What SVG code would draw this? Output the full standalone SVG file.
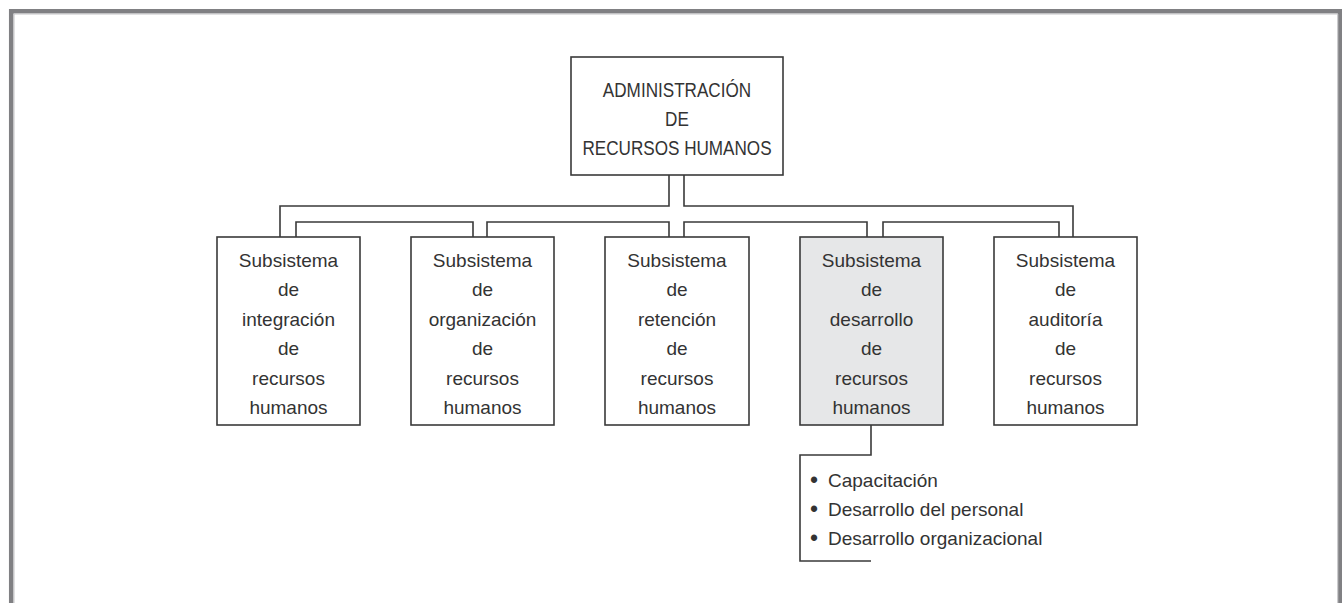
<svg xmlns="http://www.w3.org/2000/svg" width="1342" height="603" viewBox="0 0 1342 603">
<style>
.box{fill:#fff;stroke:#3a3a3a;stroke-width:1.6}
.hl{fill:#e6e7e8}
.t{font-family:"Liberation Sans",Arial,sans-serif;font-size:19px;fill:#333;text-anchor:middle}
.tc{font-family:"Liberation Sans",Arial,sans-serif;font-size:20.5px;fill:#333;text-anchor:middle}
.b{font-family:"Liberation Sans",Arial,sans-serif;font-size:19px;fill:#333}
.dot{font-size:23px}
.c{fill:none;stroke:#3a3a3a;stroke-width:1.6}
</style>
<rect width="1342" height="603" fill="#fff"/>
<g id="frame">
<path d="M11.2,603 V11.2 H1340 V603" fill="none" stroke="#808083" stroke-width="4.5"/>
<path d="M14,603 V14 H1337.8 V603" fill="none" stroke="#c4c4c6" stroke-width="1"/>
</g>
<g id="connectors">
<path class="c" d="M669,175 V206 H280 V237"/>
<path class="c" d="M684,175 V206 H1073 V237"/>
<path class="c" d="M296,237 V222 H473 V237"/>
<path class="c" d="M487,237 V222 H669 V237"/>
<path class="c" d="M684,237 V222 H867 V237"/>
<path class="c" d="M883,237 V222 H1059 V237"/>
<path class="c" d="M871,425 V455 H800 V561 H871"/>
</g>
<g id="root">
<rect class="box" x="571" y="57" width="212" height="118"/>
<text class="tc" transform="translate(677,0) scale(0.835,1)"><tspan x="0" y="97">ADMINISTRACIÓN</tspan><tspan x="0" y="126">DE</tspan><tspan x="0" y="155">RECURSOS HUMANOS</tspan></text>
</g>
<g id="integracion">
<rect class="box" x="217" y="237" width="143" height="188"/>
<text class="t"><tspan x="288.5" y="266.5">Subsistema</tspan><tspan x="288.5" y="296">de</tspan><tspan x="288.5" y="325.5">integración</tspan><tspan x="288.5" y="355">de</tspan><tspan x="288.5" y="384.5">recursos</tspan><tspan x="288.5" y="414">humanos</tspan></text>
</g>
<g id="organizacion">
<rect class="box" x="411" y="237" width="143" height="188"/>
<text class="t"><tspan x="482.5" y="266.5">Subsistema</tspan><tspan x="482.5" y="296">de</tspan><tspan x="482.5" y="325.5">organización</tspan><tspan x="482.5" y="355">de</tspan><tspan x="482.5" y="384.5">recursos</tspan><tspan x="482.5" y="414">humanos</tspan></text>
</g>
<g id="retencion">
<rect class="box" x="605" y="237" width="144" height="188"/>
<text class="t"><tspan x="677" y="266.5">Subsistema</tspan><tspan x="677" y="296">de</tspan><tspan x="677" y="325.5">retención</tspan><tspan x="677" y="355">de</tspan><tspan x="677" y="384.5">recursos</tspan><tspan x="677" y="414">humanos</tspan></text>
</g>
<g id="desarrollo">
<rect class="box hl" x="800" y="237" width="143" height="188"/>
<text class="t"><tspan x="871.5" y="266.5">Subsistema</tspan><tspan x="871.5" y="296">de</tspan><tspan x="871.5" y="325.5">desarrollo</tspan><tspan x="871.5" y="355">de</tspan><tspan x="871.5" y="384.5">recursos</tspan><tspan x="871.5" y="414">humanos</tspan></text>
</g>
<g id="auditoria">
<rect class="box" x="994" y="237" width="143" height="188"/>
<text class="t"><tspan x="1065.5" y="266.5">Subsistema</tspan><tspan x="1065.5" y="296">de</tspan><tspan x="1065.5" y="325.5">auditoría</tspan><tspan x="1065.5" y="355">de</tspan><tspan x="1065.5" y="384.5">recursos</tspan><tspan x="1065.5" y="414">humanos</tspan></text>
</g>
<g id="desarrollo-items">
<text class="b"><tspan class="dot" x="810" y="488">•</tspan><tspan x="828" y="487">Capacitación</tspan></text>
<text class="b"><tspan class="dot" x="810" y="517">•</tspan><tspan x="828" y="516">Desarrollo del personal</tspan></text>
<text class="b"><tspan class="dot" x="810" y="546">•</tspan><tspan x="828" y="545">Desarrollo organizacional</tspan></text>
</g>
</svg>
